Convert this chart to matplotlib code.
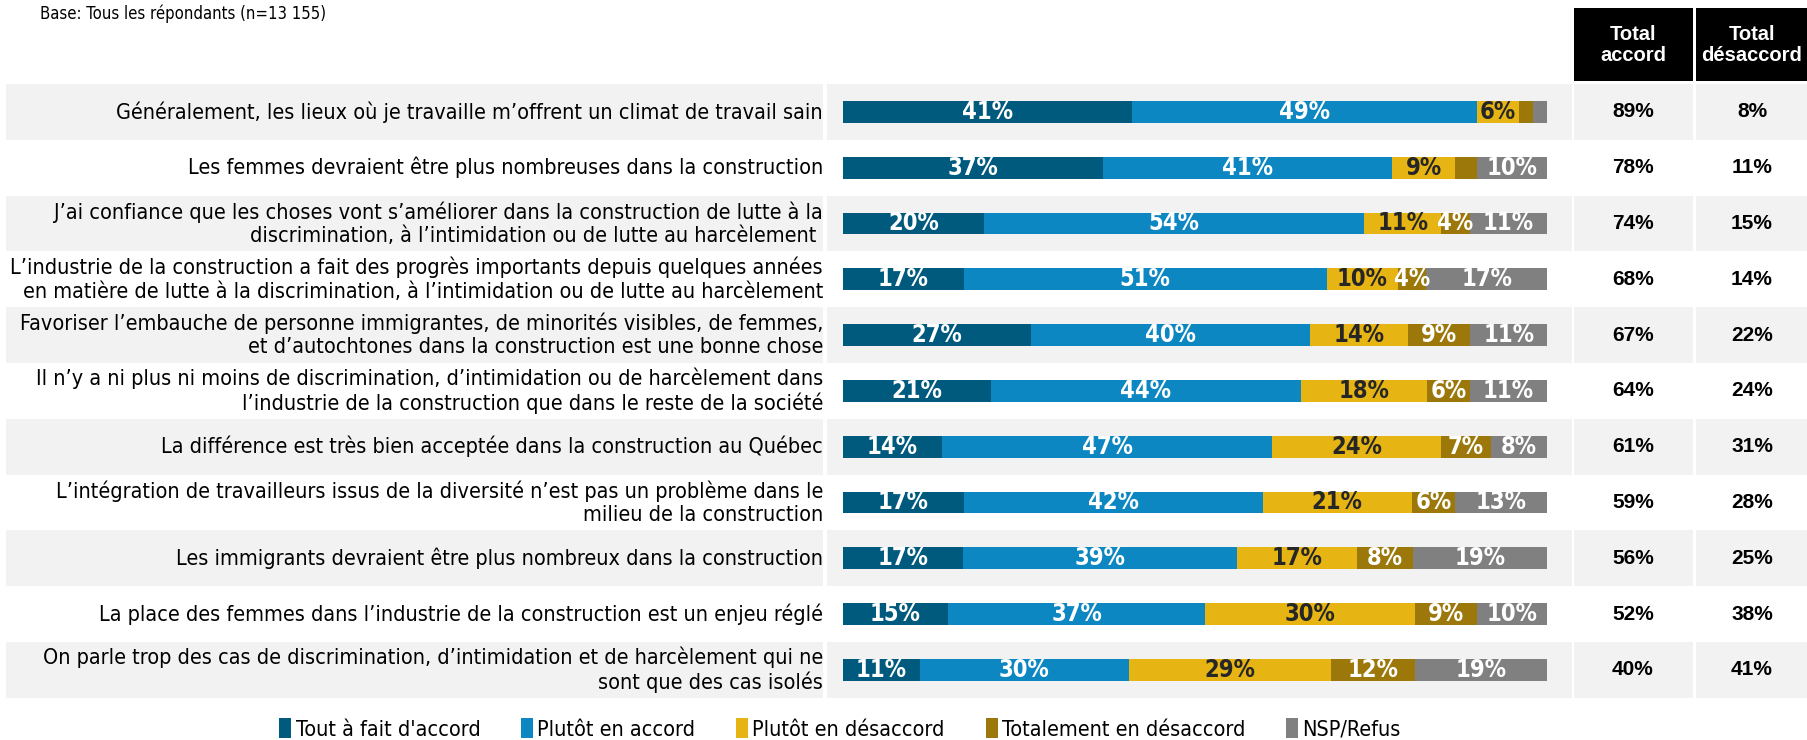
import matplotlib

matplotlib.use("Agg")

import matplotlib.pyplot as plt
from matplotlib.patches import Patch, Rectangle
import numpy as np

questions = [
    "Généralement, les lieux où je travaille m’offrent un climat de travail sain",
    "Les femmes devraient être plus nombreuses dans la construction",
    "J’ai confiance que les choses vont s’améliorer dans la construction de lutte à la\n"
    "discrimination, à l’intimidation ou de lutte au harcèlement ",
    "L’industrie de la construction a fait des progrès importants depuis quelques années\n"
    "en matière de lutte à la discrimination, à l’intimidation ou de lutte au harcèlement",
    "Favoriser l’embauche de personne immigrantes, de minorités visibles, de femmes,\n"
    "et d’autochtones dans la construction est une bonne chose",
    "Il n’y a ni plus ni moins de discrimination, d’intimidation ou de harcèlement dans\n"
    "l’industrie de la construction que dans le reste de la société",
    "La différence est très bien acceptée dans la construction au Québec",
    "L’intégration de travailleurs issus de la diversité n’est pas un problème dans le\n"
    "milieu de la construction",
    "Les immigrants devraient être plus nombreux dans la construction",
    "La place des femmes dans l’industrie de la construction est un enjeu réglé",
    "On parle trop des cas de discrimination, d’intimidation et de harcèlement qui ne\n"
    "sont que des cas isolés",
]

tout_a_fait = [41, 37, 20, 17, 27, 21, 14, 17, 17, 15, 11]
plutot_accord = [49, 41, 54, 51, 40, 44, 47, 42, 39, 37, 30]
plutot_desaccord = [6, 9, 11, 10, 14, 18, 24, 21, 17, 30, 29]
totalement_desaccord = [2, 3, 4, 4, 9, 6, 7, 6, 8, 9, 12]
nsp_refus = [2, 10, 11, 17, 11, 11, 8, 13, 19, 10, 19]

total_accord = [89, 78, 74, 68, 67, 64, 61, 59, 56, 52, 40]
total_desaccord = [8, 11, 15, 14, 22, 24, 31, 28, 25, 38, 41]

series_names = ["Tout à fait d'accord", "Plutôt en accord", "Plutôt en désaccord",
                "Totalement en désaccord", "NSP/Refus"]
colors = ["#005A7E", "#0C87C2", "#E6B514", "#9C7709", "#808080"]
text_colors = ["white", "white", "#262626", "white", "white"]

COND = {"family": "DejaVu Sans", "stretch": "condensed"}
WIDE = ["Liberation Sans", "DejaVu Sans"]

W, H = 1808, 740
top, pitch = 84, 55.8
n = len(questions)

fig = plt.figure(figsize=(W / 100, H / 100), dpi=100)

# background table, in pixel coordinates
bg = fig.add_axes([0, 0, 1, 1])
bg.set_xlim(0, W)
bg.set_ylim(H, 0)
bg.axis("off")

cells = [(6, 817), (827, 745), (1574, 119), (1696, 112)]
for i in range(n):
    if i % 2 == 0:
        for x0, w in cells:
            bg.add_patch(Rectangle((x0, top + pitch * i), w, pitch, color="#F2F2F2", lw=0))
    yc = top + pitch * (i + 0.5)
    bg.text(823, yc, questions[i], ha="right", va="center", fontsize=15.5,
            linespacing=1.2, color="black", **COND)
    bg.text(1633, yc, f"{total_accord[i]}%", ha="center", va="center", fontsize=15,
            fontweight="bold", family=WIDE, color="black")
    bg.text(1752, yc, f"{total_desaccord[i]}%", ha="center", va="center", fontsize=15,
            fontweight="bold", family=WIDE, color="black")

for x0, w, label in [(1574, 119, "Total\naccord"), (1696, 112, "Total\ndésaccord")]:
    bg.add_patch(Rectangle((x0, 8), w, 73, color="black", lw=0))
    bg.text(x0 + w / 2, 45, label, ha="center", va="center", fontsize=14.5,
            fontweight="bold", family=WIDE, color="white", linespacing=1.15)

bg.text(40, 14, "Base: Tous les répondants (n=13 155)", ha="left", va="center",
        fontsize=12, **COND)

# stacked bars
ax = fig.add_axes([843 / W, 1 - (top + n * pitch) / H, 704 / W, n * pitch / H])
ax.set_xlim(0, 100)
ax.set_ylim(n - 0.5, -0.5)
ax.axis("off")

data = np.array([tout_a_fait, plutot_accord, plutot_desaccord, totalement_desaccord, nsp_refus], float)
widths = data / data.sum(axis=0) * 100
y = np.arange(n)
left = np.zeros(n)
for k in range(len(series_names)):
    ax.barh(y, widths[k], left=left, height=0.39, color=colors[k], lw=0)
    for i in range(n):
        if data[k, i] >= 4:
            ax.text(left[i] + widths[k, i] / 2, y[i], f"{int(data[k, i])}%", ha="center",
                    va="center", fontsize=17, fontweight="bold", color=text_colors[k], **COND)
    left += widths[k]

handles = [Patch(facecolor=c, lw=0) for c in colors]
fig.legend(handles, series_names, loc="center", bbox_to_anchor=(840 / W, 1 - 729 / H),
           ncol=5, frameon=False, handlelength=0.55, handleheight=1.0, handletextpad=0.2,
           columnspacing=1.9, prop={"family": "DejaVu Sans", "stretch": "condensed", "size": 15.5})

fig.savefig("out.png", dpi=100)
